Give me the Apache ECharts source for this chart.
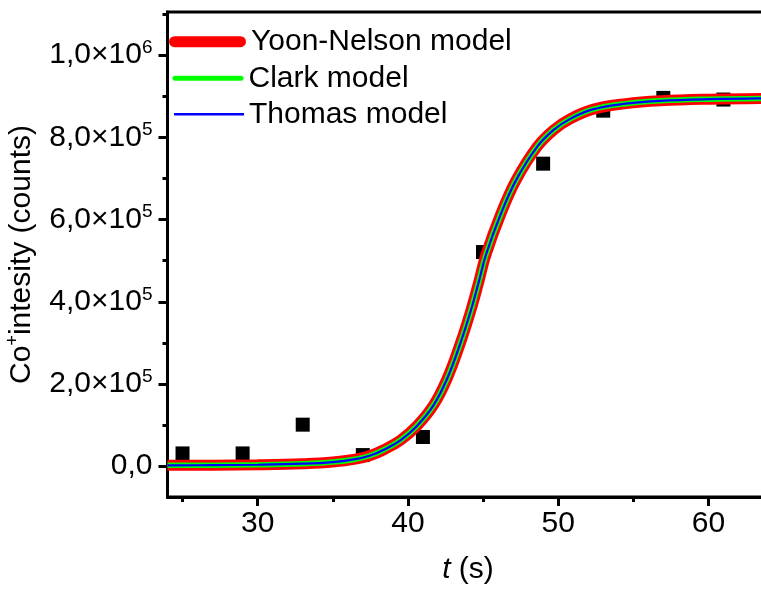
<!DOCTYPE html>
<html>
<head>
<meta charset="utf-8">
<script src="https://cdn.jsdelivr.net/npm/echarts@6/dist/echarts.min.js"></script>
<style>html,body{margin:0;padding:0;background:#fff;}#c{width:761px;height:589px;}</style>
</head>
<body>
<div id="c"></div>
<script>
// ---- data ----
var timeS = [25, 29, 33, 37, 41, 45, 49, 53, 57, 61];
var coCounts = [31000, 31000, 101000, 27000, 71000, 521000, 736000, 865000, 896000, 892000];

// model curves (the three fitted models overlap)
var curveT     = [24, 27, 30, 33, 35, 36.5, 37.5, 38.4, 39.5, 40.6, 41.7, 42.6, 43.5, 44.2, 44.7, 45.2, 46.2, 47.2, 48.6, 49.7, 50.8, 52.3, 54.5, 56.8, 60.1, 64];
var yoonNelson = [2000, 2500, 3500, 6000, 10000, 17000, 26000, 40000, 63000, 98000, 148000, 212000, 300000, 380000, 446000, 515000, 615000, 696000, 777000, 818000, 845000, 868000, 882000, 889000, 893000, 895000];
var clark      = [2000, 2500, 3500, 6000, 10000, 17000, 26000, 40000, 63000, 98000, 148000, 212000, 300000, 380000, 446000, 515000, 615000, 696000, 777000, 818000, 845000, 868000, 882000, 889000, 893000, 895000];
var thomas     = [2000, 2500, 3500, 6000, 10000, 17000, 26000, 40000, 63000, 98000, 148000, 212000, 300000, 380000, 446000, 515000, 615000, 696000, 777000, 818000, 845000, 868000, 882000, 889000, 893000, 895000];

var seriesNames = ['Yoon-Nelson model', 'Clark model', 'Thomas model'];

// ticks and tick labels
var xMajorTicks = [30, 40, 50, 60];
var xMinorTicks = [25, 35, 45, 55];
var yMajorTicks = [0, 200000, 400000, 600000, 800000, 1000000];
var yMinorTicks = [100000, 300000, 500000, 700000, 900000, 1100000];
var yTickMantissa = ['0,0', '2,0', '4,0', '6,0', '8,0', '1,0'];
var yTickExponent = ['', '5', '5', '5', '5', '6'];

function pairs(xs, ys) { return xs.map(function (x, i) { return [x, ys[i]]; }); }

var FONT = "'Liberation Sans', Arial, sans-serif";
var FS = 30;

var chart = echarts.init(document.getElementById('c'), null, {renderer: 'canvas'});
var option = {
  animation: false,
  backgroundColor: '#fff',
  grid: {
    left: 167.5, top: 12, width: 601, height: 485,
    containLabel: false, outerBoundsMode: 'none',
    show: true, borderColor: '#000', borderWidth: 3, backgroundColor: 'transparent'
  },
  legend: [
    {
      left: 169, top: 24.7, padding: 0, selectedMode: false,
      itemWidth: 77, itemHeight: 11,
      textStyle: {fontFamily: FONT, fontSize: FS, color: '#000', lineHeight: 34},
      data: [{name: seriesNames[0], icon: 'path://M5.5,0H71.5A5.5,5.5,0,0,1,71.5,11H5.5A5.5,5.5,0,0,1,5.5,0Z', itemStyle: {color: '#ff0000'}}]
    },
    {
      left: 172.5, top: 61.3, padding: 0, selectedMode: false,
      itemWidth: 71, itemHeight: 5,
      textStyle: {fontFamily: FONT, fontSize: FS, color: '#000', lineHeight: 34},
      data: [{name: seriesNames[1], icon: 'path://M2.5,0H68.5A2.5,2.5,0,0,1,68.5,5H2.5A2.5,2.5,0,0,1,2.5,0Z', itemStyle: {color: '#00ff00'}}]
    },
    {
      left: 174, top: 97.3, padding: 0, selectedMode: false,
      itemWidth: 70, itemHeight: 2.5,
      textStyle: {fontFamily: FONT, fontSize: FS, color: '#000', lineHeight: 34},
      data: [{name: seriesNames[2], icon: 'rect', itemStyle: {color: '#0000ff'}}]
    }
  ],
  xAxis: [
    {
      type: 'value', min: 24, max: 64, position: 'bottom',
      name: '{i|t} (s)', nameLocation: 'middle', nameGap: 58,
      nameTextStyle: {fontFamily: FONT, fontSize: FS, color: '#000',
        rich: {i: {fontFamily: FONT, fontSize: FS, fontStyle: 'italic', color: '#000'}}},
      axisLine: {show: true, onZero: false, lineStyle: {color: '#000', width: 3}},
      axisTick: {show: true, inside: false, length: 9, customValues: xMajorTicks, lineStyle: {color: '#000', width: 3}},
      axisLabel: {show: true, margin: 12, customValues: xMajorTicks, fontFamily: FONT, fontSize: FS, color: '#000'},
      splitLine: {show: false}
    },
    {
      type: 'value', min: 24, max: 64, position: 'bottom', gridIndex: 0,
      axisLine: {show: false, onZero: false},
      axisTick: {show: true, inside: false, length: 5, customValues: xMinorTicks, lineStyle: {color: '#000', width: 3}},
      axisLabel: {show: false},
      splitLine: {show: false}
    }
  ],
  yAxis: [
    {
      type: 'value', min: -75000, max: 1105000, position: 'left',
      name: 'Co{s|+}intesity (counts)', nameLocation: 'middle', nameGap: 115, nameRotate: 90,
      nameTextStyle: {fontFamily: FONT, fontSize: FS, color: '#000', lineHeight: 34,
        rich: {s: {fontFamily: FONT, fontSize: 18, color: '#000', verticalAlign: 'top', lineHeight: 19}}},
      axisLine: {show: true, onZero: false, lineStyle: {color: '#000', width: 3}},
      axisTick: {show: true, inside: false, length: 9, customValues: yMajorTicks, lineStyle: {color: '#000', width: 3}},
      axisLabel: {
        show: true, margin: 15, customValues: yMajorTicks,
        formatter: function (v) {
          var i = yMajorTicks.indexOf(v);
          if (i < 0) return '';
          return '{m|' + yTickMantissa[i] + (yTickExponent[i] ? '×10}{s|' + yTickExponent[i] + '}' : '}');
        },
        rich: {
          m: {fontFamily: FONT, fontSize: FS, color: '#000', lineHeight: 34},
          s: {fontFamily: FONT, fontSize: 19, color: '#000', verticalAlign: 'top', lineHeight: 19}
        }
      },
      splitLine: {show: false}
    },
    {
      type: 'value', min: -75000, max: 1105000, position: 'left', gridIndex: 0,
      axisLine: {show: false, onZero: false},
      axisTick: {show: true, inside: false, length: 5, customValues: yMinorTicks, lineStyle: {color: '#000', width: 3}},
      axisLabel: {show: false},
      splitLine: {show: false}
    }
  ],
  series: [
    {
      type: 'scatter', name: 'data', xAxisIndex: 0, yAxisIndex: 0,
      symbol: 'rect', symbolSize: 14, itemStyle: {color: '#000', opacity: 1},
      data: pairs(timeS, coCounts)
    },
    {
      type: 'line', name: seriesNames[0], xAxisIndex: 0, yAxisIndex: 0,
      showSymbol: false, smooth: 0.4,
      lineStyle: {color: '#ff0000', width: 11}, itemStyle: {color: '#ff0000'},
      data: pairs(curveT, yoonNelson)
    },
    {
      type: 'line', name: seriesNames[1], xAxisIndex: 0, yAxisIndex: 0,
      showSymbol: false, smooth: 0.4,
      lineStyle: {color: '#00ff00', width: 5.5}, itemStyle: {color: '#00ff00'},
      data: pairs(curveT, clark)
    },
    {
      type: 'line', name: seriesNames[2], xAxisIndex: 0, yAxisIndex: 0,
      showSymbol: false, smooth: 0.4,
      lineStyle: {color: '#0000ff', width: 2.2}, itemStyle: {color: '#0000ff'},
      data: pairs(curveT, thomas)
    }
  ]
};
chart.setOption(option);
</script>
</body>
</html>
